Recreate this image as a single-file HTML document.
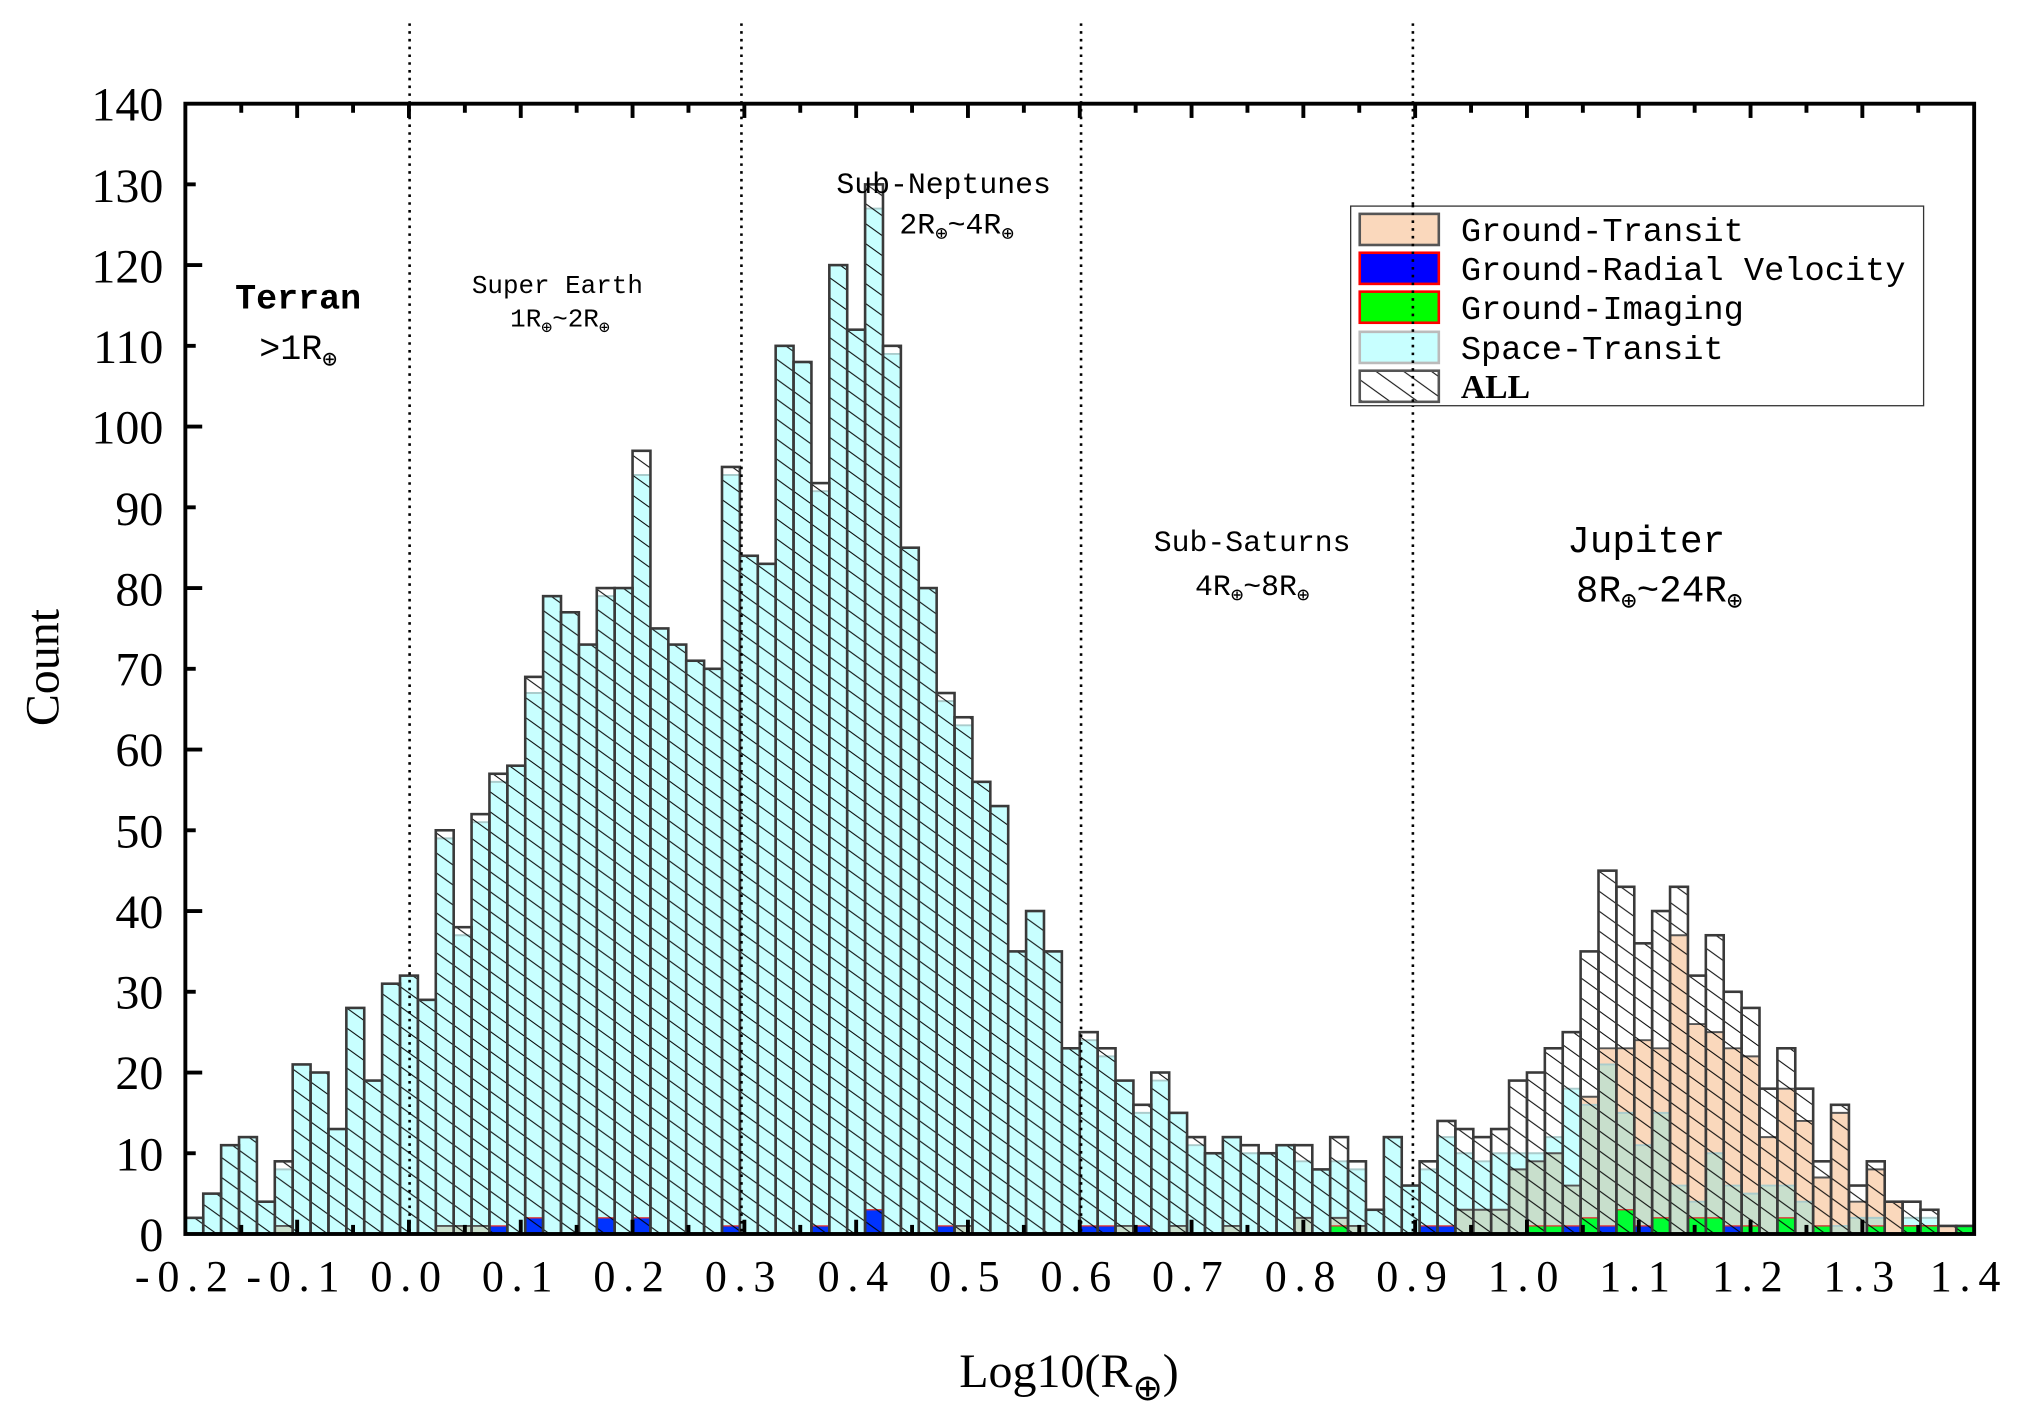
<!DOCTYPE html>
<html><head><meta charset="utf-8"><style>
html,body{margin:0;padding:0;background:#fff;}
svg{display:block;}
.tk{font-family:"Liberation Serif",serif;font-size:37px;fill:#000;}
.xl{font-family:"Liberation Serif",serif;font-size:34px;fill:#000;letter-spacing:6px;}
.an{font-family:"Liberation Mono",monospace;fill:#000;}
.lg{font-family:"Liberation Mono",monospace;font-size:26px;fill:#000;}
</style></head><body>
<svg id="s" width="2026" height="1420" viewBox="0 0 1563 1095.5" preserveAspectRatio="none" xmlns="http://www.w3.org/2000/svg">
<defs>
<pattern id="h" patternUnits="userSpaceOnUse" width="21.4" height="15.4">
<path d="M0,0 L21.4,15.4 M-21.4,0 L0,15.4 M21.4,0 L42.8,15.4 M0,-15.4 L21.4,0 M0,15.4 L21.4,30.8" stroke="#000" stroke-width="0.8" fill="none"/>
</pattern>
</defs>
<g id="bars"></g>
<!-- axes box -->
<rect x="143" y="80" width="1380" height="872" fill="none" stroke="#000" stroke-width="3"/>
<g id="ticks" stroke="#000" stroke-width="3"></g>
<!-- dotted lines -->
<g stroke="#000" stroke-width="2" stroke-dasharray="2,4">
<line x1="316" y1="18" x2="316" y2="952"/>
<line x1="572" y1="18" x2="572" y2="952"/>
<line x1="834" y1="18" x2="834" y2="952"/>
<line x1="1090" y1="18" x2="1090" y2="952"/>
</g>
<!-- y labels -->
<g class="tk" text-anchor="end">
<text x="126" y="965">0</text><text x="126" y="903">10</text><text x="126" y="840">20</text><text x="126" y="778">30</text>
<text x="126" y="716">40</text><text x="126" y="654">50</text><text x="126" y="591">60</text><text x="126" y="529">70</text>
<text x="126" y="467">80</text><text x="126" y="405">90</text><text x="126" y="342">100</text><text x="126" y="280">110</text>
<text x="126" y="218">120</text><text x="126" y="156">130</text><text x="126" y="93">140</text>
</g>
<g class="xl" text-anchor="middle">
<text x="143" y="996">-0.2</text><text x="229" y="996">-0.1</text><text x="316" y="996">0.0</text><text x="402" y="996">0.1</text>
<text x="488" y="996">0.2</text><text x="574" y="996">0.3</text><text x="661" y="996">0.4</text><text x="747" y="996">0.5</text>
<text x="833" y="996">0.6</text><text x="919" y="996">0.7</text><text x="1006" y="996">0.8</text><text x="1092" y="996">0.9</text>
<text x="1178" y="996">1.0</text><text x="1264" y="996">1.1</text><text x="1351" y="996">1.2</text><text x="1437" y="996">1.3</text>
<text x="1519" y="996">1.4</text>
</g>
<text class="tk" font-size="40" transform="translate(45,515) rotate(-90)" text-anchor="middle">Count</text>
<text class="tk" font-size="40" x="740" y="1070">Log10(R<tspan font-size="28" dy="10">⊕</tspan><tspan dy="-10">)</tspan></text>
<!-- annotations -->
<g class="an" text-anchor="middle">
<text x="230" y="238" font-size="27" font-weight="bold">Terran</text>
<text x="230" y="277" font-size="27">&gt;1R<tspan font-size="19" dy="6">⊕</tspan></text>
<text x="430" y="226" font-size="20">Super Earth</text>
<text x="432" y="252" font-size="20">1R<tspan font-size="14" dy="5">⊕</tspan><tspan dy="-5">~2R</tspan><tspan font-size="14" dy="5">⊕</tspan></text>
<text x="728" y="149" font-size="23">Sub-Neptunes</text>
<text x="738" y="180" font-size="23">2R<tspan font-size="16" dy="5">⊕</tspan><tspan dy="-5">~4R</tspan><tspan font-size="16" dy="5">⊕</tspan></text>
<text x="966" y="425" font-size="23">Sub-Saturns</text>
<text x="966" y="459" font-size="23">4R<tspan font-size="16" dy="5">⊕</tspan><tspan dy="-5">~8R</tspan><tspan font-size="16" dy="5">⊕</tspan></text>
<text x="1270" y="426" font-size="29">Jupiter</text>
<text x="1280" y="464" font-size="29">8R<tspan font-size="20" dy="6">⊕</tspan><tspan dy="-6">~24R</tspan><tspan font-size="20" dy="6">⊕</tspan></text>
</g>
<!-- legend -->
<rect x="1042" y="159" width="442" height="154" fill="#fff" stroke="#333" stroke-width="1"/>
<rect x="1049" y="165" width="61" height="24" fill="#fad8bc" stroke="#555" stroke-width="2"/>
<rect x="1049" y="195" width="61" height="24" fill="#0000ff" stroke="#ff0000" stroke-width="2"/>
<rect x="1049" y="225" width="61" height="24" fill="#00ff00" stroke="#ff0000" stroke-width="2"/>
<rect x="1049" y="256" width="61" height="24" fill="#c8ffff" stroke="#bbb" stroke-width="2"/>
<rect x="1049" y="286" width="61" height="24" fill="url(#h)" stroke="#555" stroke-width="2"/>
<g class="lg">
<text x="1127" y="186">Ground-Transit</text>
<text x="1127" y="216">Ground-Radial Velocity</text>
<text x="1127" y="246">Ground-Imaging</text>
<text x="1127" y="277">Space-Transit</text>
<text x="1127" y="307" font-weight="bold" font-family="Liberation Serif,serif">ALL</text>
</g>
<line x1="1090" y1="158" x2="1090" y2="314" stroke="#000" stroke-width="2" stroke-dasharray="2,4"/>
</svg>
<script>
var A=[2,5,11,12,4,9,21,20,13,28,19,31,32,29,50,38,52,57,58,69,79,77,73,80,80,97,75,73,71,70,95,84,83,110,108,93,120,112,130,110,85,80,67,64,56,53,35,40,35,23,25,23,19,16,20,15,12,10,12,11,10,11,11,8,12,9,3,12,6,9,14,13,12,13,19,20,23,25,35,45,43,36,40,43,32,37,30,28,18,23,18,9,16,6,9,4,4,3,1,1];
var S=A.slice(),G=new Array(100).fill(0),B=new Array(100).fill(0),R=new Array(100).fill(0);
function set(o,arr){for(var k in o)arr[k]=o[k];}
set({5:8,14:49,15:37,16:51,17:56,19:67,23:79,25:94,30:94,35:92,38:127,39:109,42:66,43:63,50:24,51:22,53:15,54:19,56:11,59:10,62:9,64:9,65:8,69:8,70:12,71:10,72:9,73:10,74:10,75:10,76:12,77:18,78:16,79:21,80:15,81:11,82:15,83:6,84:4,85:10,86:6,87:5,88:6,89:6,90:4,91:1,92:1,93:2,94:2,95:0,96:2,97:2,98:0,99:0},S);
set({5:1,14:1,15:1,16:1,43:1,52:1,55:1,58:1,62:2,64:2,65:1,71:3,72:3,73:3,74:8,75:9,76:10,77:6,78:17,79:23,80:23,81:24,82:23,83:37,84:26,85:25,86:23,87:22,88:12,89:18,90:14,91:7,92:15,93:4,94:8,95:4,96:1,97:1,98:1},G);
set({17:1,19:2,23:2,25:2,30:1,35:1,38:3,42:1,50:1,51:1,53:1,69:1,70:1,77:1,79:1,81:1,86:1},B);
set({64:1,75:1,76:1,78:2,80:3,82:2,84:2,85:2,87:1,89:2,91:1,94:1,96:1,97:1,99:1},R);
var ns="http://www.w3.org/2000/svg",g=document.getElementById('bars');
function Y(v){return 952-v*6.229;}
function r(x,v0,v1,fill,stroke,sw){if(v1<=v0)return;var e=document.createElementNS(ns,'rect');e.setAttribute('x',x);e.setAttribute('y',Y(v1));e.setAttribute('width',13.8);e.setAttribute('height',(v1-v0)*6.229);e.setAttribute('fill',fill);if(stroke){e.setAttribute('stroke',stroke);e.setAttribute('stroke-width',sw);}g.appendChild(e);}
for(var i=0;i<100;i++){var x=143+i*13.8;
 r(x,0,G[i],'#fad8bc');
 r(x,0,S[i],'#c8ffff');
 r(x,0,Math.min(G[i],S[i]),'#c8dfcc');
 if(S[i]>0){var l=document.createElementNS(ns,'line');l.setAttribute('x1',x);l.setAttribute('x2',x+13.8);l.setAttribute('y1',Y(S[i]));l.setAttribute('y2',Y(S[i]));l.setAttribute('stroke','#aacccc');l.setAttribute('stroke-width',1.5);g.appendChild(l);}
 if(G[i]>0){var l2=document.createElementNS(ns,'line');l2.setAttribute('x1',x);l2.setAttribute('x2',x+13.8);l2.setAttribute('y1',Y(G[i]));l2.setAttribute('y2',Y(G[i]));l2.setAttribute('stroke','#555');l2.setAttribute('stroke-width',1.5);g.appendChild(l2);}
 r(x,0,B[i],'#0033ff','#e03030',1);
 r(x,B[i],B[i]+R[i],'#00ff33','#e03030',1);
}
for(var i=0;i<100;i++){var x=143+i*13.8;r(x,0,A[i],'url(#h)','#3a3a3a',2);}
var t=document.getElementById('ticks');
function ln(x1,y1,x2,y2){var l=document.createElementNS(ns,'line');l.setAttribute('x1',x1);l.setAttribute('y1',y1);l.setAttribute('x2',x2);l.setAttribute('y2',y2);t.appendChild(l);}
for(var v=10;v<140;v+=10){var L=(v%20==0)?13:8;ln(143,Y(v),143+L,Y(v));}
for(var k=1;k<32;k++){var x=143+k*43.125;var L=(k%2==0)?11:7;ln(x,80,x,80+L);ln(x,952,x,952-L);}
</script>
</body></html>
